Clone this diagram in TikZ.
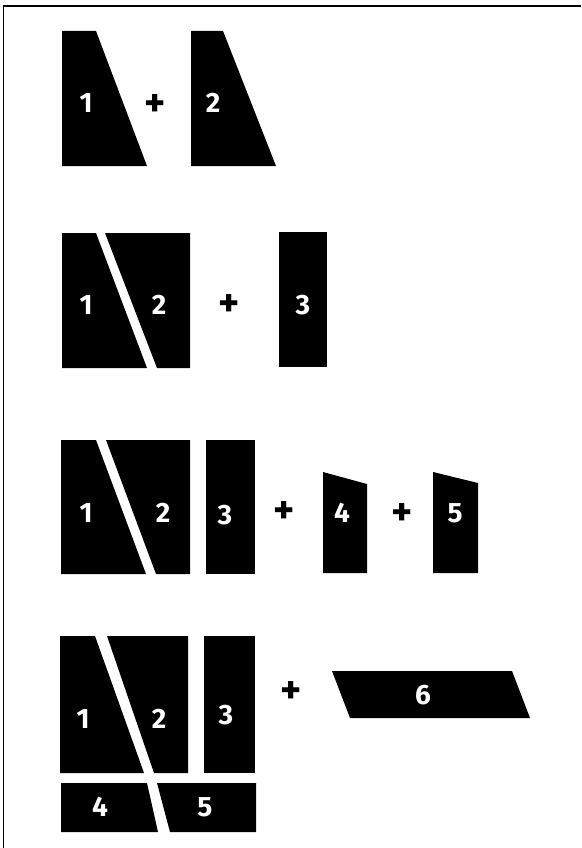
\documentclass[tikz,border=0pt]{standalone}
\usepackage{fontspec}
\setmainfont{Fira Sans}
\usepackage{tikz}

\begin{document}
\begin{tikzpicture}[
    x=1pt, y=-1pt,
    piece/.style={fill=black},
    num/.style={text=white, inner sep=0pt, font=\fontsize{28}{28}\selectfont\bfseries},
    plus/.style={text=black, inner sep=0pt, font=\fontsize{40}{40}\selectfont\bfseries}
]
\useasboundingbox (0,0) rectangle (581,848);
\draw[line width=1.3pt] (3.5,848) -- (3.5,6) -- (581,6);

% row 1
\fill[piece] (62,31) -- (96,31) -- (147,166) -- (62,166) -- cycle;
\fill[piece] (191,31) -- (223,31) -- (276,166) -- (191,166) -- cycle;
\node[num] (a1) at (86,103) {1};
\node[plus] (aplus) at (155,106) {+};
\node[num] (a2) at (213,103) {2};

% row 2
\fill[piece] (62,233) -- (96,233) -- (147,368) -- (62,368) -- cycle;
\fill[piece] (105,233) -- (190,233) -- (190,368) -- (157,368) -- cycle;
\fill[piece] (279,232) -- (327,232) -- (327,367) -- (279,367) -- cycle;
\node[num] (b1) at (86,305) {1};
\node[num] (b2) at (159,305) {2};
\node[plus] (bplus) at (229,306) {+};
\node[num] (b3) at (303,305) {3};

% row 3
\fill[piece] (61,440) -- (96,440) -- (146,574) -- (61,574) -- cycle;
\fill[piece] (106,440) -- (190,440) -- (190,574) -- (156,574) -- cycle;
\fill[piece] (206,440) -- (255,440) -- (255,574) -- (206,574) -- cycle;
\fill[piece] (323,472) -- (367,484) -- (367,573) -- (323,573) -- cycle;
\fill[piece] (433,472) -- (478,483) -- (478,573) -- (433,573) -- cycle;
\node[num] (c1) at (86,513) {1};
\node[num] (c2) at (163,513) {2};
\node[num] (c3) at (225,515) {3};
\node[plus] (cplus1) at (284,513) {+};
\node[num] (c4) at (342,513) {4};
\node[plus] (cplus2) at (402,515) {+};
\node[num] (c5) at (455,513) {5};

% row 4
\fill[piece] (60,636) -- (95,636) -- (144,773) -- (60,773) -- cycle;
\fill[piece] (107,636) -- (188,636) -- (188,773) -- (154,773) -- cycle;
\fill[piece] (204,636) -- (255,636) -- (255,773) -- (204,773) -- cycle;
\fill[piece] (61,783) -- (147,783) -- (158,832) -- (61,832) -- cycle;
\fill[piece] (157,783) -- (256,783) -- (256,832) -- (170,832) -- cycle;
\fill[piece] (332,671) -- (512,671) -- (530,718) -- (350,718) -- cycle;
\node[num] (d1) at (83,719) {1};
\node[num] (d2) at (159,719) {2};
\node[num] (d3) at (226,715) {3};
\node[plus] (dplus) at (291,693) {+};
\node[num] (d6) at (423,695) {6};
\node[num] (d4) at (100,807) {4};
\node[num] (d5) at (205,807) {5};

\end{tikzpicture}
\end{document}
